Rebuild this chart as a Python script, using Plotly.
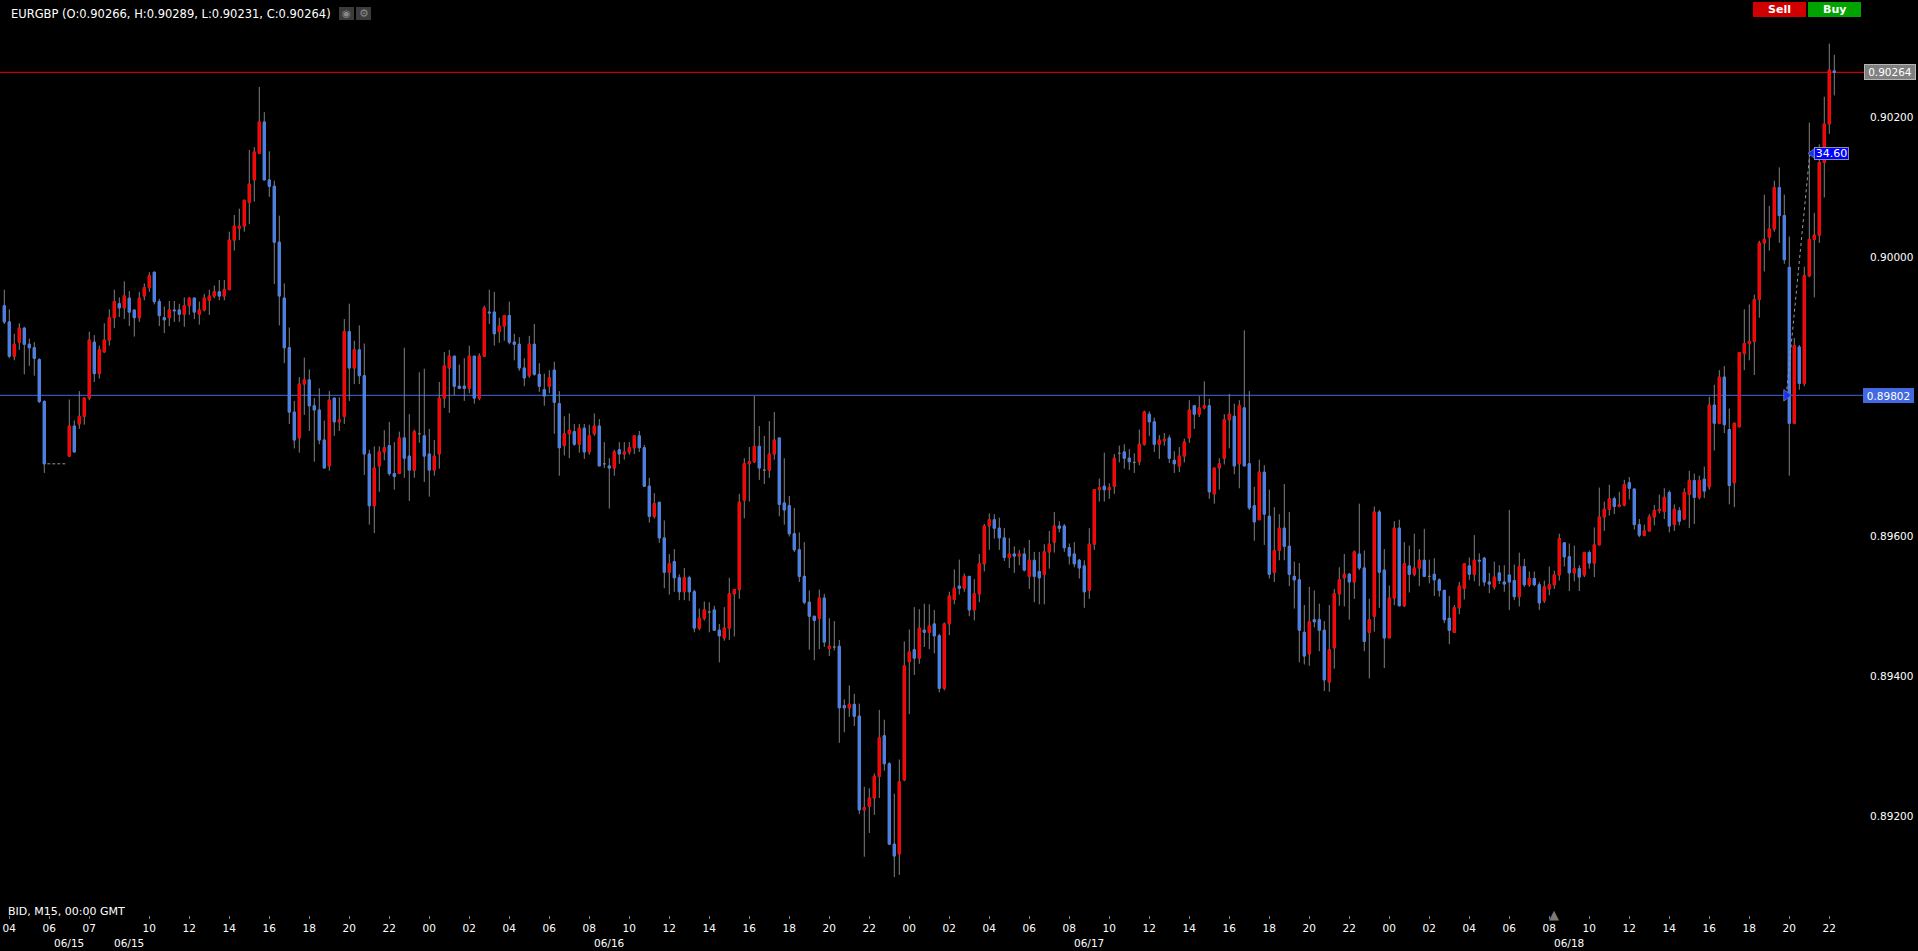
import plotly.graph_objects as go

# ---------------- data (EURGBP, M15) ----------------
symbol = "EURGBP"

opens = [
 0.89930,0.89907,0.89858,0.89878,0.89898,0.89875,0.89870,0.89853,0.89793,None,
 None,None,None,0.89715,0.89758,0.89761,0.89772,0.89798,0.89878,0.89833,
 0.89864,0.89881,0.89913,0.89933,0.89927,0.89941,0.89924,0.89913,0.89944,0.89956,
 0.89978,0.89936,0.89913,0.89913,0.89924,0.89924,0.89918,0.89930,0.89941,0.89918,
 0.89924,0.89938,0.89944,0.89950,0.89944,0.89953,0.90024,0.90041,0.90044,0.90078,
 0.90110,0.90148,0.90193,0.90110,0.90101,0.90021,0.89941,0.89870,0.89778,0.89741,
 0.89818,0.89824,0.89787,0.89781,0.89738,0.89701,0.89798,0.89764,0.89772,0.89893,
 0.89841,0.89867,0.89830,0.89718,0.89644,0.89701,0.89721,0.89730,0.89690,0.89690,
 0.89741,0.89715,0.89695,0.89747,0.89744,0.89718,0.89695,0.89718,0.89798,0.89841,
 0.89858,0.89815,0.89815,0.89812,0.89858,0.89798,0.89858,0.89921,0.89921,0.89893,
 0.89901,0.89916,0.89878,0.89875,0.89841,0.89830,0.89875,0.89832,0.89810,0.89815,
 0.89838,0.89790,0.89730,0.89747,0.89750,0.89732,0.89755,0.89721,0.89747,0.89758,
 0.89704,0.89701,0.89698,0.89724,0.89718,0.89721,0.89727,0.89744,0.89727,0.89672,
 0.89629,0.89649,0.89598,0.89549,0.89564,0.89541,0.89521,0.89541,0.89521,0.89469,
 0.89483,0.89492,0.89495,0.89466,0.89455,0.89469,0.89518,0.89524,0.89652,0.89704,
 0.89707,0.89729,0.89695,0.89695,0.89718,0.89741,0.89648,0.89644,0.89604,0.89581,
 0.89543,0.89506,0.89486,0.89483,0.89512,0.89440,0.89442,0.89443,0.89358,0.89355,
 0.89360,0.89343,0.89209,0.89214,0.89226,0.89257,0.89315,0.89275,0.89160,0.89146,
 0.89252,0.89421,0.89438,0.89426,0.89466,0.89463,0.89475,0.89458,0.89383,0.89475,
 0.89510,0.89529,0.89526,0.89543,0.89495,0.89518,0.89561,0.89615,0.89624,0.89612,
 0.89598,0.89570,0.89575,0.89572,0.89575,0.89543,0.89566,0.89550,0.89546,0.89578,
 0.89592,0.89615,0.89615,0.89584,0.89575,0.89566,0.89558,0.89523,0.89589,0.89667,
 0.89672,0.89667,0.89672,0.89719,0.89721,0.89712,0.89706,0.89707,0.89732,0.89775,
 0.89764,0.89732,0.89737,0.89741,0.89709,0.89701,0.89715,0.89741,0.89787,0.89775,
 0.89784,0.89787,0.89661,0.89698,0.89712,0.89767,0.89772,0.89704,0.89784,0.89704,
 0.89644,0.89624,0.89692,0.89629,0.89549,0.89580,0.89612,0.89586,0.89543,0.89538,
 0.89463,0.89432,0.89481,0.89481,0.89466,0.89392,0.89441,0.89518,0.89541,0.89546,
 0.89535,0.89575,0.89555,0.89463,0.89486,0.89635,0.89552,0.89455,0.89512,0.89612,
 0.89501,0.89558,0.89546,0.89555,0.89566,0.89543,0.89546,0.89538,0.89523,0.89483,
 0.89463,0.89498,0.89526,0.89558,0.89546,0.89566,0.89569,0.89535,0.89528,0.89548,
 0.89535,0.89545,0.89537,0.89514,0.89557,0.89531,0.89540,0.89531,0.89508,0.89525,
 0.89531,0.89545,0.89591,0.89571,0.89548,0.89554,0.89545,0.89577,0.89562,0.89588,
 0.89628,0.89639,0.89654,0.89643,0.89645,0.89677,0.89668,0.89617,0.89602,0.89608,
 0.89628,0.89637,0.89636,0.89663,0.89617,0.89637,0.89625,0.89660,0.89680,0.89656,
 0.89682,0.89671,0.89788,0.89762,0.89828,0.89753,0.89677,0.89757,0.89862,0.89876,
 0.89879,0.89939,0.90020,0.90028,0.90040,0.90099,0.90059,0.89985,0.89762,0.89871,
 0.89819,0.89973,0.90025,0.90031,0.90135,0.90190,0.90266]

highs = [
 0.89953,0.89925,0.89890,0.89905,0.89900,0.89883,0.89878,0.89855,0.89795,None,
 None,None,None,0.89796,0.89766,0.89808,0.89799,0.89893,0.89888,0.89873,
 0.89905,0.89925,0.89953,0.89942,0.89965,0.89951,0.89924,0.89950,0.89962,0.89978,
 0.89979,0.89940,0.89929,0.89937,0.89937,0.89933,0.89942,0.89942,0.89942,0.89936,
 0.89947,0.89953,0.89959,0.89967,0.89967,0.90036,0.90060,0.90069,0.90081,0.90153,
 0.90157,0.90243,0.90207,0.90151,0.90109,0.90059,0.89962,0.89899,0.89794,0.89828,
 0.89856,0.89839,0.89798,0.89812,0.89766,0.89808,0.89798,0.89799,0.89911,0.89933,
 0.89880,0.89902,0.89876,0.89724,0.89729,0.89729,0.89752,0.89764,0.89735,0.89750,
 0.89870,0.89775,0.89753,0.89835,0.89840,0.89754,0.89738,0.89821,0.89864,0.89867,
 0.89858,0.89846,0.89855,0.89873,0.89858,0.89862,0.89930,0.89953,0.89950,0.89913,
 0.89917,0.89936,0.89890,0.89885,0.89855,0.89887,0.89904,0.89848,0.89833,0.89838,
 0.89850,0.89808,0.89772,0.89776,0.89761,0.89761,0.89761,0.89760,0.89776,0.89768,
 0.89735,0.89712,0.89724,0.89735,0.89735,0.89735,0.89744,0.89751,0.89731,0.89684,
 0.89662,0.89649,0.89623,0.89575,0.89582,0.89546,0.89555,0.89544,0.89524,0.89497,
 0.89507,0.89506,0.89501,0.89475,0.89499,0.89541,0.89524,0.89661,0.89712,0.89728,
 0.89801,0.89758,0.89744,0.89765,0.89778,0.89741,0.89712,0.89658,0.89641,0.89606,
 0.89592,0.89523,0.89486,0.89524,0.89518,0.89483,0.89479,0.89452,0.89367,0.89387,
 0.89375,0.89361,0.89242,0.89240,0.89261,0.89352,0.89338,0.89277,0.89232,0.89281,
 0.89450,0.89467,0.89499,0.89496,0.89504,0.89503,0.89495,0.89461,0.89477,0.89521,
 0.89553,0.89567,0.89547,0.89543,0.89539,0.89575,0.89618,0.89633,0.89632,0.89627,
 0.89612,0.89598,0.89586,0.89581,0.89584,0.89595,0.89578,0.89578,0.89589,0.89608,
 0.89635,0.89622,0.89618,0.89590,0.89592,0.89568,0.89566,0.89612,0.89667,0.89683,
 0.89720,0.89676,0.89718,0.89730,0.89732,0.89725,0.89719,0.89753,0.89780,0.89779,
 0.89770,0.89745,0.89748,0.89745,0.89722,0.89728,0.89740,0.89795,0.89787,0.89801,
 0.89822,0.89797,0.89698,0.89712,0.89775,0.89804,0.89790,0.89795,0.89895,0.89808,
 0.89671,0.89710,0.89702,0.89667,0.89642,0.89632,0.89675,0.89635,0.89564,0.89562,
 0.89502,0.89528,0.89523,0.89504,0.89479,0.89502,0.89525,0.89556,0.89575,0.89548,
 0.89580,0.89647,0.89580,0.89511,0.89643,0.89638,0.89582,0.89530,0.89622,0.89624,
 0.89592,0.89587,0.89604,0.89582,0.89611,0.89567,0.89569,0.89540,0.89523,0.89515,
 0.89502,0.89535,0.89561,0.89570,0.89602,0.89576,0.89571,0.89548,0.89564,0.89559,
 0.89559,0.89638,0.89560,0.89577,0.89568,0.89550,0.89550,0.89535,0.89537,0.89557,
 0.89551,0.89604,0.89591,0.89590,0.89587,0.89559,0.89578,0.89580,0.89613,0.89670,
 0.89650,0.89674,0.89657,0.89664,0.89681,0.89685,0.89668,0.89625,0.89617,0.89632,
 0.89645,0.89660,0.89669,0.89666,0.89646,0.89642,0.89669,0.89694,0.89690,0.89687,
 0.89700,0.89800,0.89817,0.89838,0.89844,0.89783,0.89763,0.89863,0.89925,0.89932,
 0.89946,0.90023,0.90089,0.90073,0.90109,0.90128,0.90089,0.90029,0.89884,0.89874,
 0.89986,0.90192,0.90063,0.90161,0.90229,0.90305,0.90289]

lows = [
 0.89904,0.89855,0.89852,0.89867,0.89832,0.89844,0.89830,0.89791,0.89691,None,
 None,None,None,0.89714,0.89720,0.89754,0.89760,0.89795,0.89821,0.89826,
 0.89863,0.89873,0.89898,0.89914,0.89911,0.89901,0.89886,0.89907,0.89938,0.89950,
 0.89932,0.89901,0.89891,0.89901,0.89907,0.89907,0.89900,0.89917,0.89911,0.89903,
 0.89922,0.89917,0.89941,0.89938,0.89938,0.89953,0.90009,0.90024,0.90036,0.90047,
 0.90079,0.90148,0.90110,0.90086,0.89961,0.89902,0.89848,0.89761,0.89726,0.89720,
 0.89774,0.89751,0.89707,0.89732,0.89698,0.89694,0.89744,0.89751,0.89761,0.89794,
 0.89818,0.89818,0.89688,0.89617,0.89605,0.89664,0.89709,0.89687,0.89667,0.89690,
 0.89684,0.89651,0.89684,0.89734,0.89678,0.89657,0.89687,0.89697,0.89784,0.89777,
 0.89802,0.89811,0.89794,0.89805,0.89790,0.89795,0.89857,0.89904,0.89873,0.89877,
 0.89880,0.89875,0.89852,0.89837,0.89815,0.89827,0.89830,0.89807,0.89787,0.89805,
 0.89747,0.89687,0.89716,0.89712,0.89730,0.89720,0.89711,0.89717,0.89744,0.89701,
 0.89698,0.89640,0.89687,0.89704,0.89710,0.89717,0.89718,0.89721,0.89672,0.89620,
 0.89626,0.89591,0.89526,0.89517,0.89521,0.89509,0.89509,0.89508,0.89463,0.89466,
 0.89480,0.89463,0.89466,0.89420,0.89451,0.89452,0.89457,0.89511,0.89626,0.89650,
 0.89705,0.89681,0.89675,0.89684,0.89710,0.89629,0.89617,0.89600,0.89578,0.89535,
 0.89503,0.89438,0.89423,0.89439,0.89442,0.89429,0.89437,0.89305,0.89320,0.89342,
 0.89329,0.89203,0.89142,0.89176,0.89202,0.89226,0.89265,0.89159,0.89113,0.89116,
 0.89250,0.89346,0.89402,0.89418,0.89442,0.89439,0.89433,0.89377,0.89380,0.89459,
 0.89503,0.89517,0.89521,0.89486,0.89480,0.89506,0.89550,0.89581,0.89597,0.89581,
 0.89565,0.89555,0.89548,0.89559,0.89550,0.89525,0.89506,0.89503,0.89503,0.89554,
 0.89577,0.89606,0.89578,0.89560,0.89556,0.89540,0.89498,0.89511,0.89581,0.89650,
 0.89650,0.89654,0.89661,0.89706,0.89697,0.89695,0.89691,0.89702,0.89730,0.89744,
 0.89721,0.89711,0.89730,0.89705,0.89691,0.89692,0.89706,0.89734,0.89754,0.89771,
 0.89782,0.89654,0.89647,0.89667,0.89703,0.89726,0.89689,0.89669,0.89701,0.89638,
 0.89594,0.89624,0.89588,0.89540,0.89535,0.89566,0.89566,0.89529,0.89497,0.89420,
 0.89417,0.89415,0.89470,0.89436,0.89379,0.89378,0.89411,0.89501,0.89500,0.89481,
 0.89511,0.89552,0.89436,0.89397,0.89464,0.89498,0.89412,0.89455,0.89502,0.89500,
 0.89499,0.89520,0.89543,0.89529,0.89542,0.89533,0.89515,0.89514,0.89476,0.89446,
 0.89463,0.89489,0.89510,0.89538,0.89536,0.89529,0.89529,0.89519,0.89524,0.89532,
 0.89521,0.89495,0.89509,0.89500,0.89528,0.89528,0.89529,0.89495,0.89505,0.89516,
 0.89525,0.89537,0.89557,0.89522,0.89536,0.89522,0.89542,0.89554,0.89542,0.89588,
 0.89608,0.89630,0.89632,0.89642,0.89643,0.89653,0.89610,0.89599,0.89601,0.89607,
 0.89616,0.89633,0.89625,0.89606,0.89608,0.89616,0.89624,0.89612,0.89618,0.89653,
 0.89655,0.89667,0.89723,0.89761,0.89748,0.89646,0.89642,0.89756,0.89838,0.89852,
 0.89831,0.89913,0.89979,0.90009,0.90036,0.90020,0.89990,0.89687,0.89762,0.89810,
 0.89815,0.89971,0.89942,0.90020,0.90085,0.90176,0.90231]

closes = [
 0.89907,0.89858,0.89875,0.89898,0.89875,0.89870,0.89855,0.89793,0.89704,None,
 None,None,None,0.89758,0.89721,0.89772,0.89798,0.89881,0.89833,0.89867,
 0.89881,0.89913,0.89936,0.89927,0.89944,0.89921,0.89913,0.89941,0.89956,0.89973,
 0.89936,0.89916,0.89910,0.89924,0.89923,0.89918,0.89930,0.89941,0.89921,0.89924,
 0.89941,0.89944,0.89950,0.89944,0.89953,0.90024,0.90044,0.90044,0.90081,0.90104,
 0.90150,0.90193,0.90110,0.90101,0.90021,0.89944,0.89870,0.89778,0.89738,0.89818,
 0.89824,0.89787,0.89781,0.89738,0.89698,0.89795,0.89764,0.89767,0.89893,0.89841,
 0.89867,0.89830,0.89718,0.89644,0.89698,0.89721,0.89727,0.89690,0.89686,0.89741,
 0.89712,0.89695,0.89750,0.89747,0.89715,0.89695,0.89715,0.89798,0.89844,0.89858,
 0.89815,0.89812,0.89812,0.89858,0.89798,0.89858,0.89927,0.89920,0.89890,0.89901,
 0.89916,0.89878,0.89875,0.89841,0.89827,0.89875,0.89832,0.89815,0.89801,0.89827,
 0.89792,0.89727,0.89747,0.89752,0.89732,0.89755,0.89721,0.89744,0.89758,0.89701,
 0.89704,0.89698,0.89721,0.89718,0.89721,0.89727,0.89744,0.89727,0.89672,0.89629,
 0.89647,0.89598,0.89549,0.89561,0.89541,0.89521,0.89541,0.89521,0.89469,0.89483,
 0.89495,0.89492,0.89466,0.89458,0.89469,0.89518,0.89524,0.89649,0.89704,0.89707,
 0.89729,0.89698,0.89695,0.89718,0.89738,0.89646,0.89638,0.89604,0.89581,0.89543,
 0.89506,0.89486,0.89480,0.89512,0.89449,0.89443,0.89442,0.89355,0.89355,0.89360,
 0.89343,0.89209,0.89212,0.89226,0.89257,0.89312,0.89275,0.89160,0.89143,0.89249,
 0.89415,0.89435,0.89426,0.89469,0.89463,0.89472,0.89458,0.89383,0.89475,0.89515,
 0.89526,0.89526,0.89543,0.89495,0.89518,0.89561,0.89615,0.89624,0.89612,0.89598,
 0.89570,0.89575,0.89572,0.89575,0.89552,0.89566,0.89543,0.89541,0.89578,0.89589,
 0.89615,0.89612,0.89584,0.89572,0.89561,0.89555,0.89521,0.89589,0.89667,0.89670,
 0.89667,0.89670,0.89712,0.89719,0.89712,0.89707,0.89706,0.89732,0.89778,0.89764,
 0.89732,0.89738,0.89739,0.89712,0.89704,0.89715,0.89735,0.89781,0.89775,0.89784,
 0.89787,0.89664,0.89698,0.89704,0.89767,0.89775,0.89701,0.89787,0.89701,0.89641,
 0.89621,0.89692,0.89632,0.89546,0.89580,0.89612,0.89586,0.89546,0.89538,0.89466,
 0.89429,0.89478,0.89478,0.89466,0.89395,0.89438,0.89518,0.89538,0.89546,0.89535,
 0.89578,0.89555,0.89450,0.89481,0.89635,0.89549,0.89455,0.89512,0.89612,0.89501,
 0.89561,0.89546,0.89555,0.89566,0.89543,0.89543,0.89538,0.89523,0.89481,0.89466,
 0.89498,0.89529,0.89561,0.89546,0.89566,0.89565,0.89535,0.89532,0.89542,0.89537,
 0.89532,0.89535,0.89514,0.89557,0.89531,0.89540,0.89531,0.89505,0.89528,0.89531,
 0.89545,0.89597,0.89571,0.89548,0.89554,0.89542,0.89577,0.89562,0.89588,0.89628,
 0.89639,0.89654,0.89643,0.89645,0.89674,0.89669,0.89617,0.89602,0.89608,0.89628,
 0.89637,0.89639,0.89656,0.89615,0.89639,0.89622,0.89663,0.89680,0.89656,0.89680,
 0.89665,0.89788,0.89762,0.89828,0.89760,0.89673,0.89762,0.89863,0.89876,0.89879,
 0.89939,0.90020,0.90025,0.90040,0.90099,0.90059,0.89996,0.89762,0.89873,0.89819,
 0.89973,0.90025,0.90031,0.90135,0.90190,0.90267,0.90264]

# time axis labels (bar slot index, text)
time_tick_slots = [1, 9, 17, 29, 37, 45, 53, 61, 69, 77, 85, 93, 101, 109, 117, 125,
                   133, 141, 149, 157, 165, 173, 181, 189, 197, 205, 213, 221, 229,
                   237, 245, 253, 261, 269, 277, 285, 293, 301, 309, 317, 325, 333,
                   341, 349, 357, 365]
time_tick_labels = ["04", "06", "07", "10", "12", "14", "16", "18", "20", "22", "00",
                    "02", "04", "06", "08", "10", "12", "14", "16", "18", "20", "22",
                    "00", "02", "04", "06", "08", "10", "12", "14", "16", "18", "20",
                    "22", "00", "02", "04", "06", "08", "10", "12", "14", "16", "18",
                    "20", "22"]
date_slots = [13, 25, 121, 217, 313]
date_labels = ["06/15", "06/15", "06/16", "06/17", "06/18"]

price_ticks = [0.892, 0.894, 0.896, 0.900, 0.902]
level_price = 0.89802
measure_pips = 34.60
measure_start_slot = 356.4
measure_end_slot = 361.1
gap_after_slot = 8
scroll_marker_slot = 310

# ---------------- styling ----------------
W, H = 1918, 951
PLOT_W, PLOT_H = 1864, 915
UP = "#ff0000"
DOWN = "#4a80e8"
WICK = "#808080"
FONT = "DejaVu Sans"


def px(xp):
    return xp / PLOT_W


def py(yp):
    return (PLOT_H - yp) / PLOT_H


n = len(closes)
slots = list(range(n))

# bodies only (doji candles stay grey like the reference)
b_open, b_high, b_low, b_close = [], [], [], []
for o, c in zip(opens, closes):
    if o is None or c is None or o == c:
        b_open.append(None); b_high.append(None); b_low.append(None); b_close.append(None)
    else:
        b_open.append(o); b_close.append(c)
        b_high.append(max(o, c)); b_low.append(min(o, c))

fig = go.Figure()

fig.add_trace(go.Candlestick(
    x=slots, open=opens, high=highs, low=lows, close=closes,
    increasing=dict(line=dict(color=WICK, width=1), fillcolor=WICK),
    decreasing=dict(line=dict(color=WICK, width=1), fillcolor=WICK),
    whiskerwidth=0, hoverinfo="skip", showlegend=False))

fig.add_trace(go.Candlestick(
    x=slots, open=b_open, high=b_high, low=b_low, close=b_close,
    increasing=dict(line=dict(color=UP, width=1), fillcolor=UP),
    decreasing=dict(line=dict(color=DOWN, width=1), fillcolor=DOWN),
    whiskerwidth=0, hoverinfo="skip", showlegend=False))

# weekend gap dashed line
gap_close = closes[gap_after_slot]
fig.add_trace(go.Scatter(
    x=[gap_after_slot + 0.6, gap_after_slot + 4.4], y=[gap_close, gap_close],
    mode="lines", line=dict(color="#909090", width=1, dash="3px,2px"),
    hoverinfo="skip", showlegend=False))

# measurement tool
measure_top = level_price + measure_pips / 10000
fig.add_trace(go.Scatter(
    x=[measure_start_slot, measure_end_slot], y=[level_price, measure_top],
    mode="lines", line=dict(color="#9a9a9a", width=1, dash="dot"),
    hoverinfo="skip", showlegend=False))
fig.add_trace(go.Scatter(
    x=[measure_start_slot], y=[level_price], mode="markers",
    marker=dict(symbol="triangle-right", size=10, color="#1a2cff",
                line=dict(color="#6070a0", width=1)),
    hoverinfo="skip", showlegend=False))
fig.add_trace(go.Scatter(
    x=[measure_end_slot + 0.45], y=[measure_top], mode="markers",
    marker=dict(symbol="triangle-left", size=8, color="#1a2cff",
                line=dict(color="#6070a0", width=1)),
    hoverinfo="skip", showlegend=False))

last = n - 1
shapes = [
    dict(type="line", xref="paper", x0=0, x1=1, yref="y", y0=closes[last], y1=closes[last],
         line=dict(color="#ff0000", width=1), layer="below"),
    dict(type="line", xref="paper", x0=0, x1=1, yref="y", y0=level_price, y1=level_price,
         line=dict(color="#4169e1", width=1), layer="below"),
    # sell / buy buttons
    dict(type="rect", xref="paper", yref="paper", x0=px(1753), x1=px(1806), y0=py(17), y1=py(2),
         fillcolor="#d00000", line=dict(width=0)),
    dict(type="rect", xref="paper", yref="paper", x0=px(1808), x1=px(1861), y0=py(17), y1=py(2),
         fillcolor="#00a300", line=dict(width=0)),
    # title icons
    dict(type="rect", xref="paper", yref="paper", x0=px(339), x1=px(354), y0=py(20), y1=py(7),
         fillcolor="#3c3c3c", line=dict(width=0)),
    dict(type="rect", xref="paper", yref="paper", x0=px(356), x1=px(371), y0=py(20), y1=py(7),
         fillcolor="#3c3c3c", line=dict(width=0)),
]

txt = dict(family=FONT, size=10.5, color="#ffffff")
annotations = [
    dict(xref="paper", yref="paper", x=px(10), y=py(14), xanchor="left", yanchor="middle",
         text=f"{symbol} (O:{opens[last]:.5f}, H:{highs[last]:.5f}, L:{lows[last]:.5f}, C:{closes[last]:.5f})",
         showarrow=False, font=dict(family=FONT, size=11.5, color="#ffffff"), borderpad=0),
    dict(xref="paper", yref="paper", x=px(346.5), y=py(13.5), text="◉", showarrow=False,
         font=dict(family=FONT, size=10, color="#8a8a8a"), xanchor="center", yanchor="middle"),
    dict(xref="paper", yref="paper", x=px(363.5), y=py(13.5), text="⚙", showarrow=False,
         font=dict(family=FONT, size=11, color="#8a8a8a"), xanchor="center", yanchor="middle"),
    dict(xref="paper", yref="paper", x=px(1779.5), y=py(9.5), text="<b>Sell</b>", showarrow=False,
         font=dict(family=FONT, size=11, color="#ffffff"), xanchor="center", yanchor="middle"),
    dict(xref="paper", yref="paper", x=px(1834.5), y=py(9.5), text="<b>Buy</b>", showarrow=False,
         font=dict(family=FONT, size=11, color="#ffffff"), xanchor="center", yanchor="middle"),
    # right price boxes
    dict(xref="paper", yref="y", x=1, y=closes[last], xanchor="left", yanchor="middle",
         text=f"{closes[last]:.5f}", showarrow=False, font=txt, width=50, height=14,
         bgcolor="#808080", bordercolor="#b4b4b4", borderwidth=1, borderpad=0),
    dict(xref="paper", yref="y", x=1, xshift=-1, y=level_price, xanchor="left", yanchor="middle",
         text=f"{level_price:.5f}", showarrow=False, font=txt, width=51, height=15,
         bgcolor="#4169e1", borderwidth=0, borderpad=0),
    dict(xref="x", yref="y", x=measure_end_slot + 0.85, y=measure_top, xanchor="left",
         yanchor="middle", text=f"{measure_pips:.2f}", showarrow=False,
         font=dict(family=FONT, size=11, color="#ffffff"), width=33, height=11,
         bgcolor="#0000ff", bordercolor="#8c8ca8", borderwidth=1, borderpad=0),
    dict(xref="paper", yref="paper", x=px(6), y=py(911), xanchor="left", yanchor="middle",
         text="BID, M15, 00:00 GMT", showarrow=False,
         font=dict(family=FONT, size=11, color="#ffffff")),
    dict(xref="x", yref="paper", x=scroll_marker_slot, y=py(914), xanchor="center",
         yanchor="middle", text="▲", showarrow=False,
         font=dict(family=FONT, size=13, color="#7a7a7a")),
]
for s, lab in zip(date_slots, date_labels):
    annotations.append(dict(xref="x", yref="paper", x=s, y=py(943), xanchor="center",
                            yanchor="middle", text=lab, showarrow=False, font=txt))

x_lo = -4.3 / 5
x_hi = x_lo + PLOT_W / 5
px_per_unit = 69913.0
y_hi = level_price + 395.3 / px_per_unit
y_lo = level_price - (PLOT_H - 395.3) / px_per_unit

fig.update_layout(
    width=W, height=H,
    margin=dict(l=0, r=W - PLOT_W, t=0, b=H - PLOT_H, pad=0),
    paper_bgcolor="#000000", plot_bgcolor="#000000",
    boxgap=0.4, boxgroupgap=0.3,
    showlegend=False,
    shapes=shapes, annotations=annotations,
    font=dict(family=FONT, color="#ffffff", size=10.5),
    xaxis=dict(range=[x_lo, x_hi], rangeslider=dict(visible=False),
               tickmode="array", tickvals=time_tick_slots, ticktext=time_tick_labels,
               ticks="outside", ticklen=3, tickwidth=1, tickcolor="#808080",
               tickfont=txt, showgrid=False, zeroline=False, showline=False,
               fixedrange=True),
    yaxis=dict(range=[y_lo, y_hi], side="right", tickmode="array", tickvals=price_ticks,
               ticktext=[f"{v:.5f}" for v in price_ticks], ticks="", tickfont=txt,
               ticklabelstandoff=5, showgrid=False, zeroline=False, showline=False,
               fixedrange=True),
)

fig.write_html("out.html", config={"displayModeBar": False})

# remove the browser's default page margin so the figure sits at (0, 0)
with open("out.html", "r", encoding="utf-8") as fh:
    page = fh.read()
page = page.replace("<head>", "<head><style>html,body{margin:0;padding:0;background:#000;overflow:hidden}</style>", 1)
with open("out.html", "w", encoding="utf-8") as fh:
    fh.write(page)
